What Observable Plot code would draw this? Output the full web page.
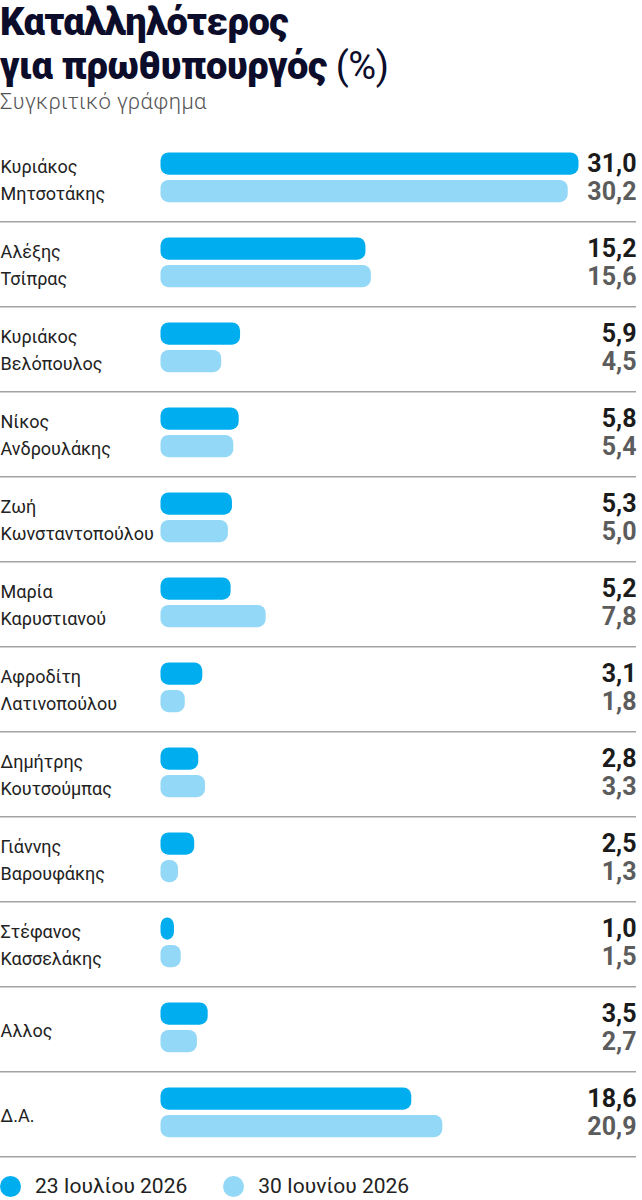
<!DOCTYPE html>
<html>
<head>
<meta charset="utf-8">
<script src="https://cdn.jsdelivr.net/npm/d3@7"></script>
<script src="https://cdn.jsdelivr.net/npm/@observablehq/plot@0.6"></script>
<style>
  html, body { margin: 0; padding: 0; background: #fff; }
  body { width: 642px; overflow: hidden; }
  .title { font-family: Roboto, "Noto Sans", sans-serif; font-weight: 900; font-size: 38px; line-height: 44px; color: #0c0d2b; margin: 0; letter-spacing: -0.4px; }
  .title .light { font-weight: 400; }
  .subtitle { font-family: Roboto, "Noto Sans", sans-serif; font-weight: 300; font-size: 22px; line-height: 28px; color: #555; margin: 0; letter-spacing: 0.4px; }
  .legend { display: flex; align-items: center; height: 40px; font-family: Roboto, sans-serif; font-size: 21px; color: #222; }
  .legend .item { display: flex; align-items: center; margin-right: 36px; }
  .legend .sw { width: 21px; height: 21px; border-radius: 50%; display: inline-block; margin-right: 14px; }
  svg { display: block; }
</style>
</head>
<body>
<div class="title">Καταλληλότερος<br>για πρωθυπουργός <span class="light">(%)</span></div>
<div class="subtitle">Συγκριτικό γράφημα</div>
<div id="chart"></div>
<div class="legend" id="legend"></div>
<script>
const names = [
  "Κυριάκος\nΜητσοτάκης",
  "Αλέξης\nΤσίπρας",
  "Κυριάκος\nΒελόπουλος",
  "Νίκος\nΑνδρουλάκης",
  "Ζωή\nΚωνσταντοπούλου",
  "Μαρία\nΚαρυστιανού",
  "Αφροδίτη\nΛατινοπούλου",
  "Δημήτρης\nΚουτσούμπας",
  "Γιάννης\nΒαρουφάκης",
  "Στέφανος\nΚασσελάκης",
  "Αλλος",
  "Δ.Α."
];
const july = [31.0, 15.2, 5.9, 5.8, 5.3, 5.2, 3.1, 2.8, 2.5, 1.0, 3.5, 18.6];
const june = [30.2, 15.6, 4.5, 5.4, 5.0, 7.8, 1.8, 3.3, 1.3, 1.5, 2.7, 20.9];
const seriesLabels = ["23 Ιουλίου 2026", "30 Ιουνίου 2026"];
const colors = ["#00aeef", "#93d8f6"];

const rows = names.map((n, i) => ({name: n, july: july[i], june: june[i]}));
const fmt = v => d3.format(".1f")(v).replace(".", ",");

const band = 85.36;
const barH = 22.5;
const top1 = 16.5;
const gap = 5;
const font = "Roboto, 'Noto Sans', sans-serif";

const chart = Plot.plot({
  width: 642,
  height: 1050,
  marginLeft: 0,
  marginRight: 6,
  marginTop: 0,
  marginBottom: 0,
  style: {fontFamily: font, background: "#fff"},
  x: {domain: [0, d3.max(july.concat(june))], range: [160.5, 578.5], axis: null},
  y: {domain: names, range: [18, 18 + band * names.length], padding: 0, axis: null},
  marks: [
    Plot.barX(rows, {y: "name", x: "july", fill: colors[0], rx: 8,
      insetTop: top1, insetBottom: band - top1 - barH}),
    Plot.barX(rows, {y: "name", x: "june", fill: colors[1], rx: 8,
      insetTop: top1 + barH + gap, insetBottom: band - top1 - 2 * barH - gap}),
    Plot.ruleY(rows, {y: "name", dy: band / 2, stroke: "#a3a3a3", strokeWidth: 1.5}),
    Plot.text(rows, {y: "name", text: "name", frameAnchor: "left", textAnchor: "start",
      fontSize: 18, lineHeight: 1.5, fill: "#222", dy: -1, letterSpacing: "-0.3px"}),
    Plot.text(rows, {y: "name", text: d => fmt(d.july), frameAnchor: "right", textAnchor: "end",
      fontSize: 25, fontWeight: "bold", fill: "#1b1b1b", dy: top1 + barH / 2 - band / 2}),
    Plot.text(rows, {y: "name", text: d => fmt(d.june), frameAnchor: "right", textAnchor: "end",
      fontSize: 25, fontWeight: "bold", fill: "#5c5c5c", dy: top1 + barH * 1.5 + gap - band / 2})
  ]
});
document.getElementById("chart").appendChild(chart);

const legend = document.getElementById("legend");
seriesLabels.forEach((lab, i) => {
  const it = document.createElement("div");
  it.className = "item";
  const sw = document.createElement("span");
  sw.className = "sw";
  sw.style.background = colors[i];
  it.appendChild(sw);
  it.appendChild(document.createTextNode(lab));
  legend.appendChild(it);
});
</script>
</body>
</html>
